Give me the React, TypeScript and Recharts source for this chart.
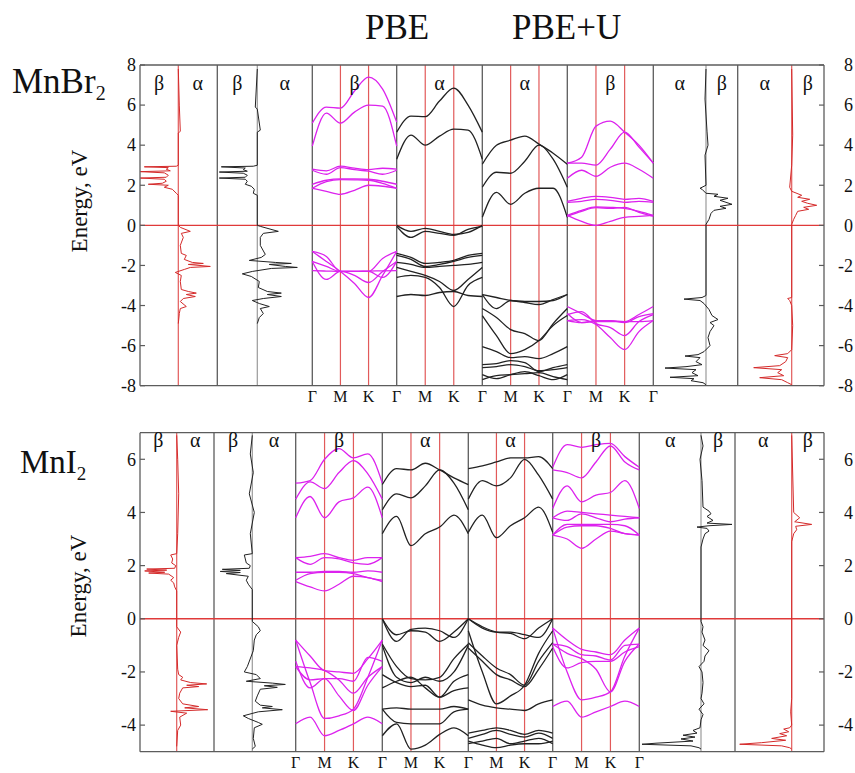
import React from "react";
import { ComposedChart, Line, XAxis, YAxis, ReferenceLine } from "recharts";

const SERIF = "'Liberation Serif', 'DejaVu Serif', serif";
const MAGENTA = "#dc22ee";
const RED = "#e03a3a";
const RED_LINE = "#e25a5a";
const BLACK = "#222222";
const GRAY = "#9a9a9a";
const FRAME = "#5c5c5c";

const K_LABELS = ["Γ", "M", "K", "Γ"];
// band energies are sampled every half segment: Γ, ·, M, ·, K, ·, Γ
const K_STEP = 0.5;

// ---------- MnBr2 ----------
const brTicks = [-8, -6, -4, -2, 0, 2, 4, 6, 8];

const brPbeBeta = [
  [5.1, 5.9, 5.85, 6.7, 7.4, 6.8, 5.15],
  [3.95, 5.6, 5.1, 5.65, 6.0, 5.95, 3.95],
  [2.8, 2.72, 2.95, 2.85, 2.78, 2.85, 2.8],
  [2.75, 2.55, 2.88, 2.78, 2.7, 2.55, 2.75],
  [2.05, 2.25, 2.32, 2.32, 2.3, 2.2, 2.05],
  [1.85, 2.18, 2.28, 2.27, 2.25, 2.1, 1.85],
  [1.85, 1.7, 1.55, 1.75, 2.0, 1.95, 1.85],
  [-1.3, -1.8, -2.3, -2.9, -3.6, -2.5, -1.3],
  [-1.8, -2.7, -2.3, -2.5, -2.85, -2.3, -1.8],
  [-2.26, -2.28, -2.3, -2.3, -2.28, -2.27, -2.26],
  [-1.3, -1.55, -2.3, -2.3, -2.3, -1.65, -1.3],
  [-1.8, -2.05, -2.3, -2.3, -2.3, -2.6, -1.8],
];

const brPbeAlpha = [
  [4.65, 5.45, 5.42, 6.2, 6.85, 6.0, 4.65],
  [3.3, 4.5, 4.0, 4.45, 4.8, 4.75, 3.3],
  [0, -0.3, -0.15, -0.3, -0.45, -0.35, 0],
  [-0.05, -0.6, -0.3, -0.4, -0.5, -0.2, -0.05],
  [-1.4, -1.6, -1.9, -1.85, -1.75, -1.5, -1.4],
  [-1.5, -1.7, -2.05, -1.95, -1.8, -1.6, -1.5],
  [-1.85, -1.95, -2.1, -2.05, -2.0, -1.95, -1.85],
  [-2.1, -2.3, -2.5, -2.8, -3.25, -2.7, -2.1],
  [-2.6, -2.5, -2.6, -3.1, -4.05, -3.0, -2.6],
  [-3.55, -3.45, -3.5, -3.35, -3.3, -3.5, -3.55],
];

const brUAlpha = [
  [3.05, 4.0, 4.25, 4.45, 4.05, 3.6, 3.05],
  [1.9, 2.65, 2.6, 3.2, 4.0, 3.3, 1.9],
  [0.4, 1.65, 1.05, 1.6, 1.85, 1.85, 0.4],
  [-3.45, -3.6, -3.75, -3.85, -3.95, -3.7, -3.45],
  [-3.45, -4.15, -3.75, -3.8, -3.8, -3.75, -3.45],
  [-4.15, -4.6, -5.2, -5.4, -5.75, -4.9, -4.15],
  [-4.5, -5.5, -6.4, -6.2, -5.75, -5.0, -4.5],
  [-6.05, -6.3, -6.6, -6.55, -6.65, -6.4, -6.05],
  [-6.95, -6.9, -6.75, -6.85, -7.3, -7.1, -6.95],
  [-7.1, -7.05, -6.95, -7.05, -7.25, -7.2, -7.1],
  [-7.7, -7.5, -7.45, -7.4, -7.35, -7.55, -7.7],
  [-7.45, -7.65, -7.45, -7.3, -7.5, -7.7, -7.45],
];

const brUBeta = [
  [3.1, 3.4, 4.95, 5.2, 4.65, 4.0, 3.1],
  [3.1, 3.1, 3.0, 3.8, 4.65, 3.9, 3.1],
  [2.35, 2.75, 2.45, 2.9, 3.1, 2.8, 2.35],
  [1.2, 1.35, 1.45, 1.4, 1.3, 1.35, 1.2],
  [1.15, 1.2, 1.3, 1.25, 1.15, 1.2, 1.15],
  [0.5, 0.75, 0.92, 0.9, 0.85, 0.7, 0.5],
  [0.45, 0.7, 0.88, 0.85, 0.9, 0.65, 0.45],
  [0.5, 0.2, 0.0, 0.2, 0.4, 0.45, 0.5],
  [-4.05, -4.4, -4.75, -4.75, -4.8, -4.45, -4.05],
  [-4.4, -4.85, -4.75, -4.75, -4.85, -4.55, -4.4],
  [-4.45, -4.3, -4.9, -5.1, -5.5, -4.8, -4.45],
  [-4.75, -4.7, -4.95, -5.6, -6.2, -5.3, -4.75],
  [-4.75, -4.85, -4.8, -4.8, -4.8, -4.8, -4.75],
];

// DOS as [energy, value]; value > 0 is spin α, value < 0 is spin β
const brDosPbeRed: [number, number][] = [
  [7.8, 0], [6.0, 1], [4.7, 2], [4.6, 0], [3.0, 0], [2.95, -2], [2.92, -34], [2.88, -10],
  [2.8, -12], [2.72, -8], [2.68, -38], [2.62, -14], [2.5, -10], [2.4, -12], [2.36, -38],
  [2.3, -14], [2.2, -12], [2.1, -16], [2.05, -30], [2.0, -10], [1.9, -14], [1.8, -6],
  [1.6, -2], [1.5, 0], [0, 0], [-0.1, 2], [-0.3, 12], [-0.4, 3], [-0.6, 5], [-1.0, 2],
  [-1.4, 3], [-1.5, 8], [-1.7, 6], [-1.85, 14], [-1.9, 25], [-1.95, 10], [-2.05, 32],
  [-2.1, 12], [-2.2, 6], [-2.35, -3], [-2.5, 3], [-2.8, 2], [-3.2, 3], [-3.3, 10],
  [-3.38, 18], [-3.45, 8], [-3.55, 17], [-3.65, 5], [-3.8, 2], [-4.05, 8], [-4.15, 2],
  [-4.4, 1], [-4.9, 0],
];
const brDosPbeBlack: [number, number][] = [
  [7.8, 0], [5.9, -2], [5.8, 0], [4.75, 3], [4.65, 0], [3.0, 0], [2.95, -4], [2.92, -36],
  [2.86, -12], [2.78, -14], [2.7, -10], [2.66, -38], [2.6, -14], [2.5, -10], [2.4, -12],
  [2.36, -38], [2.3, -12], [2.2, -10], [2.05, -12], [1.95, -6], [1.8, -3], [1.6, -4],
  [1.5, 0], [0, 0], [-0.05, 3], [-0.3, 21], [-0.4, 6], [-0.6, 3], [-1.0, 3], [-1.45, 8],
  [-1.6, 4], [-1.75, -8], [-1.85, 18], [-1.9, 34], [-1.95, 12], [-2.05, 28], [-2.1, 40],
  [-2.15, 14], [-2.3, -5], [-2.42, -15], [-2.55, -6], [-2.8, 2], [-3.1, 1], [-3.3, 10],
  [-3.38, 24], [-3.45, 10], [-3.55, 24], [-3.65, 6], [-3.75, -5], [-3.9, 2], [-4.05, 12],
  [-4.15, 3], [-4.4, 6], [-4.6, 2], [-4.9, 0],
];
const brDosUBlack: [number, number][] = [
  [7.8, 0], [6.3, 1], [4.7, -1], [4.0, -2], [3.5, 1], [2.0, 0], [1.85, 6], [1.8, 4],
  [1.6, 0], [1.55, -12], [1.45, -8], [1.35, -22], [1.25, -14], [1.15, -20], [1.05, -26],
  [0.95, -14], [0.85, -20], [0.75, -8], [0.6, -5], [0.3, -3], [0.05, 0], [-3.5, 0],
  [-3.6, 4], [-3.68, 22], [-3.75, 6], [-3.9, 2], [-4.2, -3], [-4.5, -6], [-4.7, -12],
  [-4.85, -4], [-5.0, -8], [-5.3, -4], [-5.6, -2], [-6.0, -4], [-6.3, 2], [-6.45, 8],
  [-6.52, 21], [-6.6, 6], [-6.8, 10], [-6.95, 4], [-7.05, 20], [-7.12, 41], [-7.2, 10],
  [-7.35, 14], [-7.5, 8], [-7.58, 36], [-7.65, 12], [-7.75, 15], [-7.85, 3], [-7.95, 0],
];
const brDosURed: [number, number][] = [
  [7.8, 0], [4.5, -1], [3.0, 0], [1.9, 2], [1.7, 0], [1.5, -10], [1.4, -6], [1.3, -18],
  [1.2, -10], [1.1, -16], [1.0, -25], [0.9, -12], [0.8, -17], [0.7, -6], [0.5, -4],
  [0.3, -2], [0.05, 0], [-3.6, 0], [-3.65, 4], [-3.75, 2], [-4.0, 0], [-5.0, -1],
  [-6.2, 0], [-6.4, 4], [-6.5, 17], [-6.6, 4], [-6.8, 6], [-7.0, 12], [-7.1, 38],
  [-7.2, 10], [-7.35, 14], [-7.5, 8], [-7.6, 32], [-7.7, 10], [-7.85, 4], [-7.95, 0],
];

// ---------- MnI2 ----------
const iTicks = [-4, -2, 0, 2, 4, 6];

const iPbeBeta = [
  [5.1, 5.2, 6.0, 6.4, 6.05, 6.2, 5.1],
  [4.5, 5.15, 4.9, 5.5, 5.95, 5.45, 4.5],
  [3.8, 4.6, 3.8, 4.4, 4.55, 4.95, 3.8],
  [2.3, 2.35, 2.45, 2.3, 2.2, 2.3, 2.3],
  [2.3, 2.05, 2.3, 2.25, 2.1, 2.05, 2.3],
  [1.75, 1.75, 1.78, 1.78, 1.75, 1.8, 1.75],
  [1.45, 1.7, 1.75, 1.75, 1.7, 1.55, 1.45],
  [1.4, 1.2, 1.05, 1.3, 1.6, 1.55, 1.4],
  [-0.8, -1.4, -1.95, -2.0, -2.05, -1.5, -0.8],
  [-1.6, -2.6, -2.25, -2.25, -2.35, -1.45, -1.6],
  [-1.8, -1.85, -1.95, -2.3, -2.8, -2.2, -1.8],
  [-0.8, -2.4, -3.75, -3.65, -3.4, -2.2, -0.8],
  [-3.95, -3.7, -4.4, -4.2, -3.95, -3.7, -3.95],
  [-1.8, -2.3, -2.25, -2.9, -3.45, -2.5, -1.8],
];

const iPbeAlpha = [
  [5.05, 5.65, 5.6, 5.85, 5.6, 5.3, 5.05],
  [4.1, 4.7, 4.55, 5.0, 5.6, 5.1, 4.1],
  [3.2, 3.85, 2.75, 3.2, 3.45, 3.9, 3.2],
  [0, -0.6, -0.45, -0.5, -0.85, -0.5, 0],
  [0, -0.85, -0.4, -0.35, -0.45, -0.7, 0],
  [-0.95, -1.8, -2.25, -2.3, -2.2, -1.5, -0.95],
  [-1.0, -2.2, -2.4, -2.2, -2.35, -2.0, -1.0],
  [-2.1, -2.4, -2.55, -2.5, -2.95, -2.35, -2.1],
  [-2.6, -2.35, -2.2, -2.6, -2.95, -2.7, -2.6],
  [-3.4, -3.35, -3.4, -3.4, -3.4, -3.3, -3.4],
  [-3.4, -3.9, -3.95, -3.95, -3.95, -3.5, -3.4],
  [-4.4, -3.95, -4.9, -4.75, -4.35, -4.1, -4.4],
];

const iUAlpha = [
  [5.65, 5.75, 5.9, 6.05, 6.05, 6.1, 5.65],
  [4.5, 5.2, 5.0, 5.3, 6.0, 5.4, 4.5],
  [3.25, 3.9, 3.05, 3.5, 3.8, 4.2, 3.25],
  [0, -0.3, -0.5, -0.55, -0.75, -0.35, 0],
  [0, -0.35, -0.5, -0.5, -0.6, -0.7, 0],
  [-0.45, -2.0, -3.2, -2.9, -2.5, -1.3, -0.45],
  [-0.9, -1.4, -1.85, -2.1, -2.5, -1.6, -0.9],
  [-1.1, -1.6, -2.1, -2.3, -2.55, -1.9, -1.1],
  [-3.05, -3.25, -3.35, -3.4, -3.45, -3.2, -3.05],
  [-4.3, -4.2, -4.1, -4.2, -4.35, -4.2, -4.3],
  [-4.5, -4.35, -4.2, -4.35, -4.45, -4.3, -4.5],
  [-4.7, -4.6, -4.5, -4.7, -4.6, -4.5, -4.7],
  [-4.6, -4.75, -4.85, -4.75, -4.7, -4.7, -4.6],
];

const iUBeta = [
  [5.7, 6.55, 6.45, 6.55, 6.6, 6.1, 5.7],
  [5.6, 5.5, 5.3, 5.9, 6.5, 5.9, 5.6],
  [4.15, 5.0, 4.4, 4.65, 4.75, 5.2, 4.15],
  [3.8, 4.05, 4.0, 3.95, 3.9, 3.85, 3.8],
  [3.8, 3.7, 3.95, 3.8, 3.65, 3.75, 3.8],
  [3.15, 3.55, 3.55, 3.55, 3.55, 3.5, 3.15],
  [3.15, 3.45, 3.5, 3.5, 3.4, 3.2, 3.15],
  [3.15, 3.0, 2.65, 3.0, 3.3, 3.2, 3.15],
  [-0.35, -0.8, -1.15, -1.25, -1.35, -0.8, -0.35],
  [-0.95, -1.05, -1.35, -1.4, -1.55, -1.0, -0.95],
  [-1.05, -1.85, -1.65, -1.6, -1.6, -1.25, -1.05],
  [-0.35, -2.0, -3.05, -2.95, -2.75, -1.4, -0.35],
  [-3.3, -3.1, -3.7, -3.5, -3.3, -3.1, -3.3],
  [-0.95, -1.3, -1.5, -1.9, -2.75, -1.6, -0.95],
];

const iDosPbeRed: [number, number][] = [
  [6.9, 0], [6.0, 1], [4.7, 2], [3.2, 1], [2.45, 0], [2.4, -6], [2.25, -4], [2.1, -5],
  [2.0, -1], [1.9, -2], [1.87, -30], [1.83, -10], [1.8, -32], [1.75, -12], [1.72, -28],
  [1.68, -8], [1.55, -3], [1.45, -6], [1.35, -3], [1.2, -2], [1.05, 0], [-0.3, 0],
  [-0.5, 4], [-0.7, 2], [-1.0, 0], [-1.9, 1], [-2.1, 2], [-2.2, 6], [-2.3, 4], [-2.4, 14],
  [-2.45, 30], [-2.5, 10], [-2.55, 22], [-2.6, 6], [-2.8, 3], [-3.0, 2], [-3.2, 6],
  [-3.3, 22], [-3.35, 8], [-3.42, 31], [-3.48, -6], [-3.55, 10], [-3.7, 3], [-4.0, 4],
  [-4.2, 1], [-4.8, 0],
];
const iDosPbeBlack: [number, number][] = [
  [6.9, 0], [6.2, -2], [5.5, 1], [4.7, -3], [4.0, 2], [3.2, -2], [2.45, 0], [2.4, -8],
  [2.25, -7], [2.1, -6], [2.0, -2], [1.9, -3], [1.86, -30], [1.82, -12], [1.78, -32],
  [1.74, -12], [1.7, -26], [1.6, -4], [1.45, -6], [1.3, -4], [1.1, 0], [-0.1, 0],
  [-0.3, 6], [-0.45, 8], [-0.6, 4], [-0.8, 2], [-1.2, 1], [-1.8, -5], [-2.0, -8],
  [-2.1, 4], [-2.25, 8], [-2.35, -6], [-2.42, 20], [-2.47, 33], [-2.52, 12], [-2.58, 25],
  [-2.65, 8], [-2.9, 5], [-3.1, 3], [-3.25, 8], [-3.3, 20], [-3.35, 10], [-3.42, 30],
  [-3.5, 6], [-3.65, -9], [-3.75, -4], [-3.9, 6], [-3.97, 10], [-4.1, 2], [-4.5, 1],
  [-4.8, 3], [-4.9, 0],
];
const iDosUBlack: [number, number][] = [
  [6.9, 0], [6.5, -2], [6.0, 1], [5.2, -1], [4.2, -2], [4.05, -8], [3.95, -10],
  [3.85, -6], [3.7, -12], [3.6, -6], [3.55, -31], [3.5, -8], [3.45, 4], [3.4, -6],
  [3.3, -8], [3.2, -4], [3.0, -2], [2.7, 0], [-0.1, 0], [-0.3, -2], [-0.5, -1], [-0.8, -4],
  [-1.0, -2], [-1.2, -8], [-1.4, -4], [-1.6, -3], [-1.8, 2], [-2.0, -1], [-2.4, -2],
  [-2.8, -1], [-3.0, 0], [-3.2, -3], [-3.4, 2], [-3.6, -2], [-3.8, 0], [-4.1, 1],
  [-4.2, 8], [-4.3, 4], [-4.38, 18], [-4.45, 6], [-4.52, 20], [-4.6, 8], [-4.68, 45],
  [-4.72, 59], [-4.78, 10], [-4.85, 2], [-4.9, 0],
];
const iDosURed: [number, number][] = [
  [6.9, 0], [4.0, -2], [3.8, -8], [3.65, -3], [3.55, -20], [3.48, -4], [3.35, -5],
  [3.2, -2], [2.9, 0], [-3.0, 0], [-3.5, 1], [-4.0, 0], [-4.1, 2], [-4.15, 8], [-4.25, 3],
  [-4.32, 12], [-4.4, 5], [-4.5, 20], [-4.57, 6], [-4.66, 30], [-4.72, 52], [-4.78, 10],
  [-4.85, 2], [-4.9, 0],
];

// ---------- layout ----------
type DosPanel = {
  kind: "dos";
  x0: number; base: number; x1: number;
  alphaSide: 1 | -1;
  color: string; baseColor: string;
  dos: [number, number][];
};
type BandPanel = {
  kind: "band";
  x0: number; x1: number;
  spin: "α" | "β";
  color: string;
  bands: number[][];
};
type Panel = DosPanel | BandPanel;

type Row = {
  top: number; height: number;
  plotTop: number; plotBottom: number;
  yMin: number; yMax: number;
  ticks: number[];
  labelY: number;
  panels: Panel[];
};

const X_LEFT = 140;
const X_RIGHT = 824;
const DOS_RED = "#d42a2a";

const rows: Row[] = [
  {
    top: 0, height: 430, plotTop: 65, plotBottom: 385.7,
    yMin: -8, yMax: 8, ticks: brTicks, labelY: 90,
    panels: [
      { kind: "dos", x0: 140, base: 178.3, x1: 217.3, alphaSide: 1, color: DOS_RED, baseColor: RED_LINE, dos: brDosPbeRed },
      { kind: "dos", x0: 217.3, base: 257.3, x1: 312.3, alphaSide: 1, color: BLACK, baseColor: GRAY, dos: brDosPbeBlack },
      { kind: "band", x0: 312.3, x1: 396.7, spin: "β", color: MAGENTA, bands: brPbeBeta },
      { kind: "band", x0: 396.7, x1: 482.3, spin: "α", color: BLACK, bands: brPbeAlpha },
      { kind: "band", x0: 482.3, x1: 567.3, spin: "α", color: BLACK, bands: brUAlpha },
      { kind: "band", x0: 567.3, x1: 653.3, spin: "β", color: MAGENTA, bands: brUBeta },
      { kind: "dos", x0: 653.3, base: 706, x1: 737.7, alphaSide: -1, color: BLACK, baseColor: GRAY, dos: brDosUBlack },
      { kind: "dos", x0: 737.7, base: 791.7, x1: 824, alphaSide: -1, color: DOS_RED, baseColor: RED_LINE, dos: brDosURed },
    ],
  },
  {
    top: 420, height: 353, plotTop: 432.7, plotBottom: 751.7,
    yMin: -5, yMax: 7, ticks: iTicks, labelY: 447,
    panels: [
      { kind: "dos", x0: 140, base: 176.7, x1: 214, alphaSide: 1, color: DOS_RED, baseColor: RED_LINE, dos: iDosPbeRed },
      { kind: "dos", x0: 214, base: 252.3, x1: 295.7, alphaSide: 1, color: BLACK, baseColor: GRAY, dos: iDosPbeBlack },
      { kind: "band", x0: 295.7, x1: 382.3, spin: "β", color: MAGENTA, bands: iPbeBeta },
      { kind: "band", x0: 382.3, x1: 468.3, spin: "α", color: BLACK, bands: iPbeAlpha },
      { kind: "band", x0: 468.3, x1: 552.7, spin: "α", color: BLACK, bands: iUAlpha },
      { kind: "band", x0: 552.7, x1: 639.3, spin: "β", color: MAGENTA, bands: iUBeta },
      { kind: "dos", x0: 639.3, base: 701, x1: 735, alphaSide: -1, color: BLACK, baseColor: GRAY, dos: iDosUBlack },
      { kind: "dos", x0: 735, base: 791.7, x1: 824, alphaSide: -1, color: DOS_RED, baseColor: RED_LINE, dos: iDosURed },
    ],
  },
];

const X_AXIS_H = 20;

function RowChart({ row }: { row: Row }) {
  const { top, height, plotTop, plotBottom, yMin, yMax, ticks, panels } = row;

  const kTicks: number[] = [];
  const kNames: string[] = [];
  panels.forEach((p) => {
    if (p.kind !== "band") return;
    const w = p.x1 - p.x0;
    [0, 1, 2, 3].forEach((i) => {
      const x = p.x0 + (i * w) / 3;
      if (kTicks.length && Math.abs(kTicks[kTicks.length - 1] - x) < 0.5) return;
      kTicks.push(x);
      kNames.push(K_LABELS[i]);
    });
  });

  const lines: React.ReactNode[] = [];
  const refs: React.ReactNode[] = [];
  panels.forEach((p, pi) => {
    if (p.x0 > X_LEFT) refs.push(<ReferenceLine key={`sep${pi}`} yAxisId="l" x={p.x0} stroke={FRAME} strokeWidth={1.3} />);
    if (p.kind === "band") {
      const w = p.x1 - p.x0;
      refs.push(<ReferenceLine key={`m${pi}`} yAxisId="l" x={p.x0 + w / 3} stroke={RED_LINE} strokeWidth={1.2} />);
      refs.push(<ReferenceLine key={`k${pi}`} yAxisId="l" x={p.x0 + (2 * w) / 3} stroke={RED_LINE} strokeWidth={1.2} />);
      p.bands.forEach((band, bi) => {
        const data = band.map((e, i) => ({ x: p.x0 + ((i * K_STEP) * w) / 3, e }));
        lines.push(
          <Line key={`b${pi}-${bi}`} yAxisId="l" data={data} dataKey="e" type="monotone"
            stroke={p.color} strokeWidth={1.3} dot={false} isAnimationActive={false} />
        );
      });
    } else {
      refs.push(<ReferenceLine key={`base${pi}`} yAxisId="l" x={p.base} stroke={p.baseColor} strokeWidth={1.2} />);
      const data = p.dos.map(([e, v]) => ({ x: p.base + p.alphaSide * v, e }));
      lines.push(
        <Line key={`d${pi}`} yAxisId="l" data={data} dataKey="e" type="linear"
          stroke={p.color} strokeWidth={1} dot={false} isAnimationActive={false} />
      );
    }
  });

  const leftTick = (props: any) => (
    <g>
      <line x1={X_LEFT} x2={X_LEFT + 5} y1={props.y} y2={props.y} stroke={FRAME} strokeWidth={1.2} />
      <text x={136} y={props.y} dy="0.35em" textAnchor="end" fontFamily={SERIF} fontSize={18} fill="#111">
        {props.payload.value}
      </text>
    </g>
  );
  const rightTick = (props: any) => (
    <g>
      <line x1={X_RIGHT - 5} x2={X_RIGHT} y1={props.y} y2={props.y} stroke={FRAME} strokeWidth={1.2} />
      <text x={853} y={props.y} dy="0.35em" textAnchor="end" fontFamily={SERIF} fontSize={18} fill="#111">
        {props.payload.value}
      </text>
    </g>
  );
  const kTick = (props: any) => {
    const idx = kTicks.findIndex((t) => Math.abs(t - props.payload.value) < 0.01);
    return (
      <text x={props.x} y={plotBottom - top + 16} textAnchor="middle" fontFamily={SERIF} fontSize={16} fill="#111">
        {kNames[idx] ?? ""}
      </text>
    );
  };

  return (
    <div style={{ position: "absolute", left: 0, top }}>
      <ComposedChart
        width={855}
        height={height}
        margin={{ top: plotTop - top, right: 0, bottom: height - (plotBottom - top) - X_AXIS_H, left: X_LEFT - 40 }}
      >
        <XAxis dataKey="x" type="number" domain={[X_LEFT, X_RIGHT]} allowDataOverflow ticks={kTicks}
          interval={0} axisLine={false} tickLine={false} height={X_AXIS_H} tick={kTick} />
        <YAxis yAxisId="l" type="number" domain={[yMin, yMax]} allowDataOverflow ticks={ticks} interval={0}
          width={40} axisLine={false} tickLine={false} tick={leftTick} />
        <YAxis yAxisId="r" orientation="right" type="number" domain={[yMin, yMax]} allowDataOverflow ticks={ticks}
          interval={0} width={855 - X_RIGHT} axisLine={false} tickLine={false} tick={rightTick} />
        {refs}
        <ReferenceLine yAxisId="l" y={0} stroke={RED} strokeWidth={1.4} />
        {lines}
        <ReferenceLine yAxisId="l" x={X_LEFT} stroke={FRAME} strokeWidth={1.3} />
        <ReferenceLine yAxisId="l" x={X_RIGHT} stroke={FRAME} strokeWidth={1.3} />
        <ReferenceLine yAxisId="l" y={yMax} stroke={FRAME} strokeWidth={1.3} />
        <ReferenceLine yAxisId="l" y={yMin} stroke={FRAME} strokeWidth={1.3} />
      </ComposedChart>
    </div>
  );
}

function spinLabels(row: Row) {
  const out: { x: number; t: string }[] = [];
  row.panels.forEach((p) => {
    if (p.kind === "band") {
      out.push({ x: (p.x0 + p.x1) / 2, t: p.spin });
    } else {
      const leftSpin = p.alphaSide === 1 ? "β" : "α";
      const rightSpin = p.alphaSide === 1 ? "α" : "β";
      out.push({ x: (p.x0 + p.base) / 2, t: leftSpin });
      out.push({ x: (p.base + p.x1) / 2, t: rightSpin });
    }
  });
  return out;
}

export default function App() {
  return (
    <div style={{ position: "absolute", left: 0, top: 0, width: 855, height: 773, background: "#fff", overflow: "hidden" }}>
      {rows.map((r, i) => (
        <RowChart key={i} row={r} />
      ))}
      <svg width={855} height={773} style={{ position: "absolute", left: 0, top: 0, pointerEvents: "none" }}>
        <g fontFamily={SERIF} fill="#111">
          <text x={365} y={39} fontSize={35}>PBE</text>
          <text x={512} y={39} fontSize={35}>PBE+U</text>
          <text x={12} y={93} fontSize={35}>
            MnBr<tspan fontSize={20} dy={7}>2</tspan>
          </text>
          <text x={20} y={473} fontSize={33}>
            MnI<tspan fontSize={19} dy={7}>2</tspan>
          </text>
          <text transform="translate(87,201) rotate(-90)" textAnchor="middle" fontSize={23}>Energy, eV</text>
          <text transform="translate(86,586) rotate(-90)" textAnchor="middle" fontSize={23}>Energy, eV</text>
          {rows.map((r, ri) =>
            spinLabels(r).map((s, si) => (
              <text key={`${ri}-${si}`} x={s.x} y={r.labelY} textAnchor="middle" fontSize={20}>{s.t}</text>
            ))
          )}
        </g>
      </svg>
    </div>
  );
}
